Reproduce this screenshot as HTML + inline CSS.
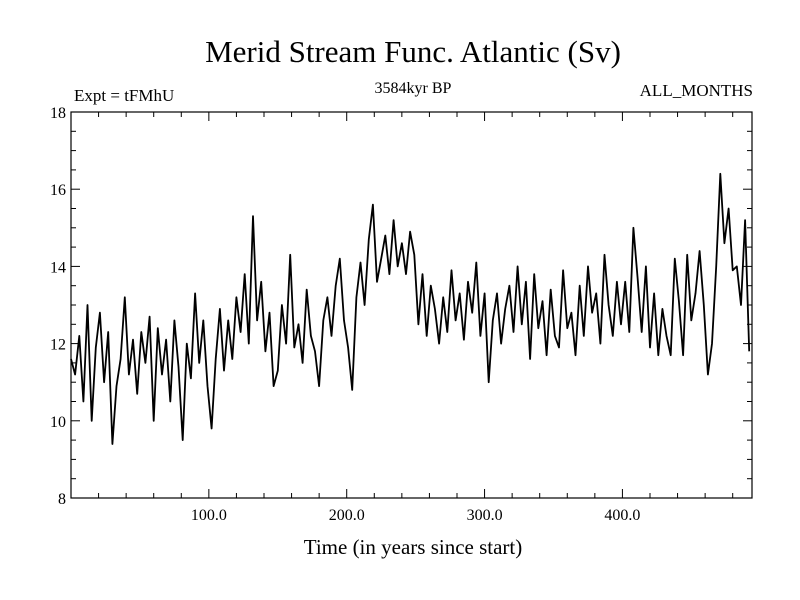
<!DOCTYPE html>
<html><head><meta charset="utf-8"><style>
body{margin:0;background:#fff}
svg{display:block;font-family:"Liberation Serif",serif}
</style></head><body>
<svg id="chart" width="800" height="600" viewBox="0 0 800 600">
<text x="413" y="62" font-size="31" text-anchor="middle">Merid Stream Func. Atlantic (Sv)</text>
<text x="74" y="101" font-size="17">Expt = tFMhU</text>
<text x="413" y="93" font-size="16" text-anchor="middle">3584kyr BP</text>
<text x="753" y="96" font-size="17" text-anchor="end">ALL_MONTHS</text>
<text x="413" y="554" font-size="21" text-anchor="middle">Time (in years since start)</text>
<g id="axes"></g>
<path id="series" fill="none" stroke="#000" stroke-width="1.8" stroke-linejoin="round"/>
</svg>
<script>
const yTickLabels=[8,10,12,14,16,18];
const xTickValues=[100,200,300,400];
const xTickLabels=["100.0","200.0","300.0","400.0"];
const stepYears=3;
const values=[11.6,11.2,12.2,10.5,13.0,10.0,11.9,12.8,11.0,12.3,9.4,10.9,11.6,13.2,11.2,12.1,10.7,12.3,11.5,12.7,10.0,12.4,11.2,12.1,10.5,12.6,11.4,9.5,12.0,11.1,13.3,11.5,12.6,10.9,
9.8,11.6,12.9,11.3,12.6,11.6,13.2,12.3,13.8,12.0,15.3,12.6,13.6,11.8,12.8,10.9,11.3,
13.0,12.0,14.3,11.9,12.5,11.5,13.4,12.2,11.8,10.9,12.6,13.2,12.2,13.5,14.2,12.6,11.9,
10.8,13.2,14.1,13.0,14.7,15.6,13.6,14.2,14.8,13.8,15.2,14.0,14.6,13.8,14.9,14.3,
12.5,13.8,12.2,13.5,12.9,12.0,13.2,12.3,13.9,12.6,13.3,12.1,13.6,12.8,14.1,12.2,13.3,
11.0,12.6,13.3,12.0,12.9,13.5,12.3,14.0,12.5,13.6,11.6,13.8,12.4,13.1,11.7,13.4,
12.2,11.9,13.9,12.4,12.8,11.7,13.5,12.2,14.0,12.8,13.3,12.0,14.3,13.0,12.2,13.6,12.5,
13.6,12.3,15.0,13.7,12.3,14.0,11.9,13.3,11.7,12.9,12.2,11.7,14.2,13.1,11.7,14.3,12.6,
13.3,14.4,13.0,11.2,12.0,14.0,16.4,14.6,15.5,13.9,14.0,13.0,15.2,11.8];
const X0=71,X1=752,Y0=498,Y1=112,XMAX=494;
const xs=v=>X0+(v/XMAX)*(X1-X0);
const ys=v=>Y0-(v-8)/10*(Y0-Y1);
const NS="http://www.w3.org/2000/svg";
const axes=document.getElementById('axes');
function el(t,a){const e=document.createElementNS(NS,t);for(const k in a)e.setAttribute(k,a[k]);axes.appendChild(e);return e;}
const frame=el('rect',{x:X0,y:Y1,width:X1-X0,height:Y0-Y1,fill:'none',stroke:'#000','stroke-width':1.2});


for(let v=8;v<=18.001;v+=0.5){const maj=Math.abs(v-Math.round(v/2)*2)<1e-6;const L=maj?9:5;
 el('line',{x1:X0,x2:X0+L,y1:ys(v),y2:ys(v),stroke:'#000'});el('line',{x1:X1,x2:X1-L,y1:ys(v),y2:ys(v),stroke:'#000'});}
yTickLabels.forEach(v=>{const t=el('text',{x:X0-5,y:ys(v)+6,'font-size':16,'text-anchor':'end'});t.textContent=v;
 
 });
for(let v=20;v<XMAX;v+=20){const maj=v%100===0;const L=maj?9:5;
 el('line',{x1:xs(v),x2:xs(v),y1:Y0,y2:Y0-L,stroke:'#000'});el('line',{x1:xs(v),x2:xs(v),y1:Y1,y2:Y1+L,stroke:'#000'});}
xTickValues.forEach((v,i)=>{const t=el('text',{x:xs(v),y:Y0+22,'font-size':16,'text-anchor':'middle'});t.textContent=xTickLabels[i];
 
 });
let d='';values.forEach((v,i)=>{d+=(i?'L':'M')+xs(Math.min(i*stepYears,XMAX)).toFixed(1)+' '+ys(v).toFixed(1);});
document.getElementById('series').setAttribute('d',d);
</script>
</body></html>
